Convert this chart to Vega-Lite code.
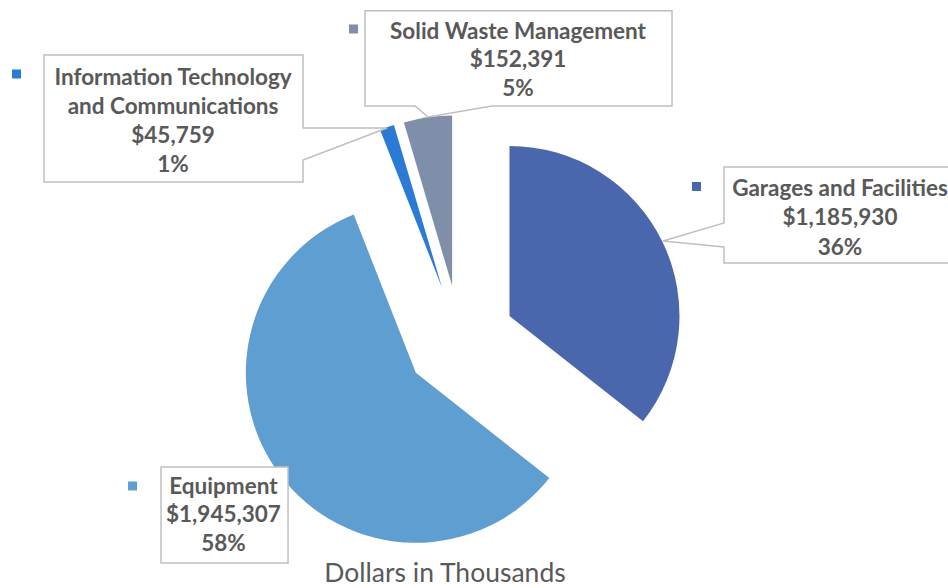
{
  "$schema": "https://vega.github.io/schema/vega-lite/v6.json",
  "width": 948,
  "height": 588,
  "padding": 0,
  "autosize": "none",
  "background": "white",
  "config": {"view": {"stroke": null}},
  "title": {"text": "Dollars in Thousands", "orient": "bottom", "frame": "group", "offset": -27, "dx": -29, "anchor": "middle", "font": "Lato", "fontSize": 26.5, "fontWeight": "normal", "color": "#595959"},
  "data": {"values": [
    {"category": "Garages and Facilities", "value": 1185930},
    {"category": "Equipment", "value": 1945307},
    {"category": "Information Technology and Communications", "value": 45759},
    {"category": "Solid Waste Management", "value": 152391}
  ]},
  "transform": [
    {"window": [{"op": "sum", "field": "value", "as": "cum"}], "frame": [null, 0], "ignorePeers": true},
    {"joinaggregate": [{"op": "sum", "field": "value", "as": "total"}]},
    {"calculate": "datum.cum - datum.value", "as": "start"},
    {"calculate": "2 * PI * (datum.cum - datum.value / 2) / datum.total", "as": "mid"},
    {"calculate": "sin(datum.mid)", "as": "ex"},
    {"calculate": "cos(datum.mid)", "as": "ey"},
    {"calculate": "replace(datum.category, ' and Comm', '\\nand Comm') + '\\n$' + format(datum.value, ',') + '\\n' + format(datum.value / datum.total, '.0%')", "as": "label"}
  ],
  "encoding": {
    "x": {"field": "ex", "type": "quantitative", "axis": null, "scale": {"domain": [-8.3636, 8.8727], "nice": false, "zero": false}},
    "y": {"field": "ey", "type": "quantitative", "axis": null, "scale": {"domain": [-4.5091, 6.1818], "nice": false, "zero": false}}
  },
  "layer": [
    {
      "mark": {"type": "arc", "radius": 170},
      "encoding": {
        "theta": {"field": "cum", "type": "quantitative", "stack": null},
        "theta2": {"field": "start"},
        "color": {"field": "category", "type": "nominal", "legend": null,
          "scale": {"domain": ["Garages and Facilities", "Equipment", "Information Technology and Communications", "Solid Waste Management"],
                    "range": ["#4A66AC", "#5F9ED1", "#2B7BD6", "#7F8FA9"]}}
      }
    },
    {
      "mark": {"type": "point", "filled": true, "fill": "white", "stroke": "#BFBFBF", "strokeWidth": 1.5, "size": 4, "opacity": 1},
      "encoding": {
        "shape": {"field": "category", "type": "nominal", "legend": null,
          "scale": {"domain": ["Garages and Facilities", "Equipment", "Information Technology and Communications", "Solid Waste Management"],
                    "range": [
                      "M214.5,-149H448.5V-53H214.5V-69L153.5,-75L214.5,-93Z",
                      "M-254.8,94.2H-127.8V190.2H-254.8Z",
                      "M-398.1,-233H-139.1V-160L-55.1,-160L-139.1,-128V-106H-398.1Z",
                      "M-87.1,-274.9H219.9V-179.6H39.9L-24.1,-168.6L-37.1,-179.6H-87.1Z"
                    ]}}
      }
    },
    {
      "mark": {"type": "point", "filled": true, "size": 4, "opacity": 1},
      "encoding": {
        "shape": {"field": "category", "type": "nominal", "legend": null,
          "scale": {"domain": ["Garages and Facilities", "Equipment", "Information Technology and Communications", "Solid Waste Management"],
                    "range": [
                      "M182.5,-134h9v9h-9Z",
                      "M-287.8,108.7h9v9h-9Z",
                      "M-430.1,-218.5h9v9h-9Z",
                      "M-103.1,-261.1h9v9h-9Z"
                    ]}},
        "color": {"field": "category", "type": "nominal", "legend": null}
      }
    },
    {
      "transform": [{"filter": {"field": "category", "equal": "Garages and Facilities"}}],
      "mark": {"type": "text", "dx": 330.5, "dy": -127, "align": "center", "baseline": "middle", "font": "Lato", "fontSize": 22.5, "fontWeight": "bold", "fill": "#595959", "lineBreak": "\n", "lineHeight": 29.5},
      "encoding": {"text": {"field": "label"}}
    },
    {
      "transform": [{"filter": {"field": "category", "equal": "Equipment"}}],
      "mark": {"type": "text", "dx": -192.4, "dy": 114.2, "align": "center", "baseline": "middle", "font": "Lato", "fontSize": 22.5, "fontWeight": "bold", "fill": "#595959", "lineBreak": "\n", "lineHeight": 28.5},
      "encoding": {"text": {"field": "label"}}
    },
    {
      "transform": [{"filter": {"field": "category", "equal": "Information Technology and Communications"}}],
      "mark": {"type": "text", "dx": -269.1, "dy": -210, "align": "center", "baseline": "middle", "font": "Lato", "fontSize": 22.5, "fontWeight": "bold", "fill": "#595959", "lineBreak": "\n", "lineHeight": 29},
      "encoding": {"text": {"field": "label"}}
    },
    {
      "transform": [{"filter": {"field": "category", "equal": "Solid Waste Management"}}],
      "mark": {"type": "text", "dx": 65.9, "dy": -253.6, "align": "center", "baseline": "middle", "font": "Lato", "fontSize": 22.5, "fontWeight": "bold", "fill": "#595959", "lineBreak": "\n", "lineHeight": 28.5},
      "encoding": {"text": {"field": "label"}}
    }
  ],
  "resolve": {"scale": {"shape": "independent"}}
}
